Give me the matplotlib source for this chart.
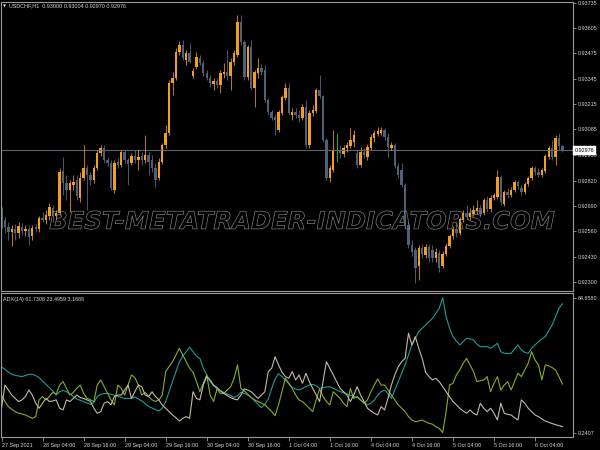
import numpy as np
import matplotlib.pyplot as plt
from matplotlib import patheffects

# USDCHF H1 bars, 27 Sep 16:00 .. 6 Oct 12:00, prices in points (1e-5)
open_pts = [
    92670, 92618, 92582, 92557, 92572, 92551, 92582, 92562, 92572, 92536,
    92582, 92572, 92628, 92618, 92639, 92680, 92639, 92654, 92870, 92808,
    92772, 92798, 92824, 92731, 92834, 92885, 92849, 92824, 92885, 92963,
    92988, 92927, 92911, 92772, 92916, 92901, 92968, 92927, 92911, 92947,
    92927, 92947, 92927, 92952, 92927, 92885, 92834, 92916, 93004, 93065,
    93322, 93348, 93482, 93518, 93441, 93477, 93358, 93405, 93451, 93425,
    93374, 93348, 93317, 93333, 93312, 93369, 93379, 93358, 93430, 93466,
    93636, 93533, 93353, 93507, 93297, 93374, 93399, 93389, 93235, 93173,
    93148, 93081, 93168, 93245, 93297, 93158, 93173, 93158, 93142, 93199,
    93004, 93168, 93178, 93286, 93256, 93029, 92834, 92875, 92978, 92978,
    92957, 92988, 92999, 93019, 92963, 92901, 92968, 92942, 92988, 93040,
    93060, 93065, 93081, 93045, 92988, 93004, 92896, 92875, 92798, 92592,
    92490, 92464, 92382, 92474, 92438, 92479, 92464, 92423, 92449, 92382,
    92443, 92485, 92536, 92572, 92551, 92618, 92654, 92634, 92649, 92664,
    92680, 92654, 92721, 92675, 92731, 92736, 92839, 92700, 92762, 92747,
    92772, 92814, 92783, 92762, 92803, 92834, 92885, 92865, 92849, 92870,
    92942, 92988, 92942, 93040, 93000,
]
high_pts = [
    92685, 92634, 92608, 92592, 92598, 92608, 92603, 92592, 92587, 92592,
    92598, 92639, 92659, 92670, 92706, 92695, 92670, 92885, 92942, 92849,
    92824, 92849, 92849, 92865, 93004, 92901, 92865, 92901, 92978, 93004,
    93004, 92942, 92927, 92927, 92937, 92978, 92978, 92937, 92963, 92978,
    92978, 92968, 93055, 92968, 92952, 92911, 92937, 93014, 93106, 93338,
    93379, 93502, 93538, 93543, 93492, 93528, 93399, 93482, 93466, 93441,
    93389, 93364, 93348, 93348, 93389, 93425, 93492, 93451, 93492, 93672,
    93672, 93543, 93518, 93543, 93389, 93451, 93420, 93415, 93245, 93184,
    93163, 93184, 93261, 93322, 93322, 93194, 93194, 93184, 93214, 93235,
    93184, 93209, 93297, 93364, 93261, 93040, 92901, 93081, 93065, 93004,
    93004, 93019, 93091, 93081, 92978, 92993, 92988, 93009, 93060, 93081,
    93096, 93096, 93091, 93065, 93019, 93014, 92911, 92911, 92808, 92608,
    92515, 92479, 92490, 92495, 92495, 92495, 92490, 92474, 92464, 92459,
    92500, 92546, 92587, 92608, 92634, 92670, 92695, 92680, 92695, 92721,
    92695, 92731, 92742, 92747, 92757, 92875, 92849, 92772, 92783, 92788,
    92824, 92824, 92798, 92814, 92844, 92896, 92896, 92885, 92885, 92957,
    92999, 93029, 93055, 93065, 93004,
]
low_pts = [
    92577, 92551, 92515, 92485, 92515, 92526, 92541, 92536, 92490, 92515,
    92557, 92557, 92608, 92598, 92618, 92608, 92618, 92644, 92747, 92721,
    92659, 92772, 92721, 92711, 92824, 92670, 92798, 92808, 92875, 92947,
    92911, 92896, 92772, 92757, 92885, 92891, 92911, 92798, 92901, 92911,
    92875, 92901, 92911, 92849, 92865, 92788, 92824, 92906, 92988, 93055,
    93261, 93338, 93466, 93441, 93415, 93425, 93348, 93394, 93415, 93358,
    93338, 93302, 93286, 93297, 93271, 93348, 93338, 93286, 93415, 93456,
    93518, 93338, 93338, 93286, 93199, 93348, 93364, 93225, 93158, 93132,
    93055, 93071, 93158, 93235, 93158, 93132, 93142, 93122, 93132, 92988,
    92988, 93153, 93168, 93245, 93019, 92824, 92814, 92865, 92916, 92937,
    92942, 92968, 92988, 92993, 92885, 92891, 92937, 92927, 92978, 93019,
    93050, 93055, 93029, 92942, 92978, 92885, 92834, 92788, 92577, 92474,
    92433, 92294, 92310, 92423, 92423, 92402, 92402, 92402, 92351, 92371,
    92433, 92474, 92521, 92531, 92541, 92608, 92618, 92618, 92639, 92649,
    92634, 92644, 92659, 92659, 92721, 92726, 92695, 92690, 92731, 92736,
    92762, 92778, 92747, 92752, 92793, 92824, 92849, 92839, 92839, 92860,
    92932, 92927, 92901, 92978, 92970,
]
close_pts = [
    92618, 92582, 92557, 92572, 92551, 92587, 92562, 92572, 92531, 92577,
    92572, 92628, 92618, 92644, 92685, 92639, 92654, 92865, 92808, 92772,
    92808, 92814, 92742, 92834, 92885, 92849, 92824, 92885, 92963, 92988,
    92927, 92911, 92783, 92911, 92901, 92968, 92927, 92906, 92947, 92927,
    92942, 92927, 92952, 92916, 92885, 92824, 92916, 93004, 93065, 93322,
    93348, 93482, 93518, 93451, 93477, 93430, 93384, 93456, 93425, 93374,
    93348, 93322, 93333, 93312, 93374, 93379, 93358, 93430, 93477, 93636,
    93533, 93353, 93507, 93297, 93379, 93399, 93379, 93235, 93173, 93142,
    93132, 93173, 93250, 93297, 93168, 93173, 93158, 93142, 93199, 93004,
    93168, 93184, 93286, 93256, 93029, 92834, 92885, 92978, 92978, 92963,
    92988, 93004, 93029, 93055, 92901, 92968, 92952, 92993, 93045, 93065,
    93076, 93081, 93045, 92993, 93004, 92896, 92849, 92798, 92592, 92490,
    92454, 92371, 92474, 92443, 92479, 92423, 92423, 92454, 92371, 92443,
    92485, 92536, 92572, 92551, 92623, 92654, 92634, 92654, 92670, 92680,
    92649, 92721, 92675, 92731, 92747, 92839, 92711, 92762, 92747, 92772,
    92814, 92793, 92762, 92803, 92834, 92885, 92865, 92849, 92875, 92947,
    92988, 92942, 93040, 93000, 92976,
]

# ADX(14) window
adx_main = [
    31.7, 30.5, 29.1, 28.1, 27.6, 27.3, 27.0, 27.5, 28.1, 28.1,
    27.5, 26.5, 24.9, 23.3, 21.8, 20.2, 18.2, 19.8, 20.5, 19.8,
    18.7, 17.5, 16.3, 15.7, 15.1, 14.4, 13.8, 14.7, 17.5, 18.6,
    18.9, 19.0, 18.6, 18.1, 17.6, 17.1, 16.6, 16.6, 16.6, 17.3,
    16.3, 15.4, 14.1, 12.8, 12.0, 11.3, 10.6, 11.9, 15.1, 19.8,
    24.6, 29.4, 34.1, 36.8, 38.9, 41.0, 38.9, 36.8, 35.7, 31.0,
    27.8, 24.6, 22.7, 21.1, 20.3, 19.5, 18.7, 17.9, 17.0, 17.9,
    19.5, 19.0, 18.2, 17.1, 15.4, 13.8, 12.2, 13.8, 16.3, 21.4,
    25.9, 28.4, 27.0, 25.4, 23.6, 21.8, 21.1, 20.6, 21.4, 22.2,
    23.0, 23.3, 22.7, 21.4, 21.7, 22.1, 22.2, 21.4, 20.6, 19.8,
    19.4, 18.7, 18.1, 17.6, 17.0, 15.7, 14.7, 13.5, 14.3, 15.7,
    18.2, 19.8, 20.6, 19.0, 16.6, 20.6, 24.6, 28.6, 32.6, 37.3,
    42.1, 45.3, 48.5, 50.1, 51.6, 53.2, 54.8, 57.2, 59.6, 64.658,
    55.6, 50.1, 46.1, 44.0, 42.1, 43.7, 45.3, 45.0, 44.5, 42.4,
    41.3, 41.3, 41.3, 40.5, 41.6, 42.9, 38.9, 38.1, 38.1, 38.1,
    40.2, 42.1, 39.7, 38.6, 38.1, 40.5, 42.1, 43.7, 45.0, 46.1,
    48.8, 51.6, 55.6, 59.6, 61.7308,
]
plus_di = [
    18.2, 15.1, 12.7, 11.4, 10.3, 9.5, 9.2, 8.7, 7.9, 7.1,
    7.9, 15.9, 17.5, 15.9, 17.5, 19.5, 18.6, 23.0, 24.6, 21.4,
    18.2, 19.5, 21.4, 23.0, 19.0, 16.6, 15.9, 15.1, 23.0, 25.4,
    22.2, 19.0, 15.9, 13.5, 23.0, 21.4, 18.2, 23.0, 27.8, 26.5,
    23.0, 18.2, 19.5, 17.5, 15.9, 15.1, 15.9, 18.2, 29.4, 31.8,
    34.1, 37.3, 40.5, 37.3, 34.1, 31.0, 29.1, 24.6, 19.8, 23.8,
    27.8, 18.2, 15.1, 21.1, 19.0, 19.0, 20.6, 22.2, 26.2, 32.6,
    21.4, 20.2, 18.6, 17.0, 15.9, 15.1, 14.3, 13.5, 11.9, 10.3,
    8.4, 13.5, 19.8, 26.2, 23.8, 21.4, 18.2, 15.9, 15.1, 13.5,
    11.9, 10.3, 15.9, 21.1, 17.5, 15.1, 13.5, 19.8, 18.2, 16.6,
    14.3, 12.7, 21.4, 16.6, 17.5, 15.9, 14.3, 15.9, 19.8, 23.0,
    25.9, 23.0, 23.0, 20.6, 18.2, 15.9, 13.5, 11.9, 10.3, 7.9,
    6.3, 5.5, 5.8, 6.3, 5.5, 4.7, 4.3, 3.1, 2.3, 0.2407,
    10.3, 23.0, 23.8, 27.8, 30.2, 33.4, 35.7, 32.6, 29.4, 24.6,
    25.1, 25.4, 27.0, 19.8, 23.8, 27.0, 20.6, 23.0, 24.6, 20.6,
    24.6, 28.6, 27.0, 30.2, 33.4, 38.9, 34.9, 32.6, 25.4, 32.6,
    32.1, 31.3, 30.2, 27.0, 23.4959,
]
minus_di = [
    11.9, 23.0, 20.6, 18.2, 16.6, 15.1, 15.9, 17.5, 20.6, 18.2,
    14.3, 11.9, 14.3, 16.6, 15.1, 15.4, 15.9, 11.9, 11.1, 15.9,
    15.1, 16.6, 18.2, 17.0, 16.6, 15.9, 15.1, 11.9, 9.5, 10.3,
    14.3, 15.1, 13.5, 17.5, 18.2, 18.2, 20.6, 23.0, 16.6, 19.8,
    23.0, 22.2, 18.2, 17.5, 19.8, 17.5, 15.9, 13.5, 11.9, 10.3,
    8.7, 7.4, 5.8, 7.1, 7.9, 7.1, 19.8, 16.6, 15.9, 23.0,
    27.0, 25.4, 23.0, 21.8, 20.2, 19.0, 17.9, 17.0, 16.3, 15.9,
    18.2, 21.1, 20.6, 19.8, 18.2, 16.6, 18.2, 19.8, 29.4, 31.0,
    36.5, 32.6, 29.1, 27.0, 26.2, 29.4, 25.4, 27.8, 23.8, 28.6,
    24.6, 21.4, 18.2, 15.1, 24.6, 34.1, 31.0, 27.8, 24.6, 21.4,
    19.8, 18.2, 15.1, 18.2, 22.2, 18.2, 15.1, 11.9, 10.6, 9.5,
    8.7, 12.7, 11.1, 16.6, 23.0, 27.8, 31.7, 34.1, 35.7, 47.7,
    42.1, 46.1, 40.5, 35.7, 29.1, 27.0, 25.4, 26.2, 24.6, 22.2,
    19.8, 17.5, 15.1, 13.5, 11.9, 10.6, 9.5, 11.1, 9.5, 8.7,
    14.3, 11.9, 10.3, 11.9, 9.5, 6.3, 14.3, 9.5, 9.0, 8.7,
    7.4, 6.3, 15.9, 14.3, 11.9, 10.3, 8.7, 7.9, 6.8, 5.8,
    5.2, 4.6, 4.1, 3.6, 3.1688,
]

price_ticks = [0.93735, 0.93605, 0.93475, 0.93345, 0.93215, 0.93085,
               0.92950, 0.92820, 0.92690, 0.92560, 0.92430, 0.92300]
date_labels = ["27 Sep 2021", "28 Sep 04:00", "28 Sep 16:00", "29 Sep 04:00",
               "29 Sep 16:00", "30 Sep 04:00", "30 Sep 16:00", "1 Oct 04:00",
               "1 Oct 16:00", "4 Oct 04:00", "4 Oct 16:00", "5 Oct 04:00",
               "5 Oct 16:00", "6 Oct 04:00"]
bars_per_label = 12
last_price = 0.92976
adx_top, adx_bottom = 64.6580, 0.2407
header = "USDCHF,H1  0.93000 0.93004 0.92970 0.92976"
adx_header = "ADX(14) 61.7308 23.4959 3.1688"

plt.rcParams['font.family'] = ['Liberation Sans', 'DejaVu Sans']

o = np.array(open_pts) / 1e5
h = np.array(high_pts) / 1e5
l = np.array(low_pts) / 1e5
c = np.array(close_pts) / 1e5
x = np.arange(len(c))

W, H = 600, 450
fig = plt.figure(figsize=(6, 4.5), dpi=100, facecolor='black')
ax = fig.add_axes([1 / W, 1 - 291 / H, 572 / W, 289 / H], facecolor='black')
ax2 = fig.add_axes([1 / W, 1 - 436.7 / H, 572 / W, 143.7 / H], facecolor='black')

frame = '#9a9a9a'
txt = '#d6d6d6'
bull = '#f0a01e'
bear = '#506176'

# candles
up = c > o
dn = c < o
dj = c == o
ax.vlines(x[up], l[up], h[up], color=bull, lw=0.75, alpha=0.75)
ax.vlines(x[dn], l[dn], h[dn], color=bear, lw=0.75, alpha=0.9)
ax.vlines(x[dj], l[dj], h[dj], color='#12b812', lw=0.7)
body = np.maximum(np.abs(c - o), 0.00003)
ax.bar(x[up], body[up], bottom=o[up], width=0.7, color=bull, linewidth=0)
ax.bar(x[dn], body[dn], bottom=c[dn], width=0.7, color=bear, linewidth=0)

ax.axhline(last_price, color='#5b6570', lw=0.8, zorder=1)

ax.set_xlim(-0.15, 167.1)
ax.set_ylim(0.92253, 0.93739)
ax.set_xticks([])
ax.yaxis.tick_right()
ax.set_yticks(price_ticks)
ax.set_yticklabels([f"{p:.5f}" for p in price_ticks])
ax.tick_params(axis='y', colors=frame, labelcolor=txt, labelsize=3.9,
               length=2.5, width=0.6, pad=1.2)
for s in ax.spines.values():
    s.set_color(frame)
    s.set_linewidth(0.8)

ax.text(1.003, last_price, f"{last_price:.5f}", transform=ax.get_yaxis_transform(),
        ha='left', va='center', fontsize=3.9, color='black', zorder=6,
        bbox=dict(boxstyle='square,pad=0.35', fc='white', ec='white', lw=0.3),
        clip_on=False)

# watermark
ax.text(0.525, 0.239, "BEST-METATRADER-INDICATORS.COM", transform=ax.transAxes,
        ha='center', va='center', fontsize=17.5, family='DejaVu Sans',
        fontstyle='oblique', fontweight='bold', color=(0, 0, 0, 0), zorder=5,
        path_effects=[patheffects.Stroke(linewidth=0.45, foreground='#8a8a8a')])

fig.text(3 / W, 1 - 6 / H, "\u25bc", fontsize=2.8, color=txt, va='center',
         family='DejaVu Sans')
fig.text(9 / W, 1 - 6 / H, header, fontsize=3.9, color=txt, va='center')

# ADX window
ax2.plot(x, adx_main, color='#1e9c98', lw=0.8)
ax2.plot(x, plus_di, color='#86ad27', lw=0.8)
ax2.plot(x, minus_di, color='#c4b9a6', lw=0.8)
ax2.set_xlim(-0.15, 167.1)
ax2.set_ylim(-1.67, 66.9)
ax2.yaxis.tick_right()
ax2.set_yticks([adx_top, adx_bottom])
ax2.set_yticklabels([f"{adx_top:.4f}", f"{adx_bottom:.4f}"])
ax2.tick_params(axis='y', colors=frame, labelcolor=txt, labelsize=3.9,
                length=2.5, width=0.6, pad=1.2)
date_pos = np.arange(len(date_labels)) * bars_per_label
ax2.set_xticks(date_pos)
ax2.set_xticklabels(date_labels)
for lbl in ax2.get_xticklabels():
    lbl.set_ha('left')
ax2.tick_params(axis='x', colors=frame, labelcolor=txt, labelsize=3.9,
                length=3, width=0.6, pad=1.5)
for s in ax2.spines.values():
    s.set_color(frame)
    s.set_linewidth(0.8)
fig.text(3 / W, 1 - 299 / H, adx_header, fontsize=3.9, color=txt, va='center')

fig.savefig("out.png", dpi=100, facecolor='black')
